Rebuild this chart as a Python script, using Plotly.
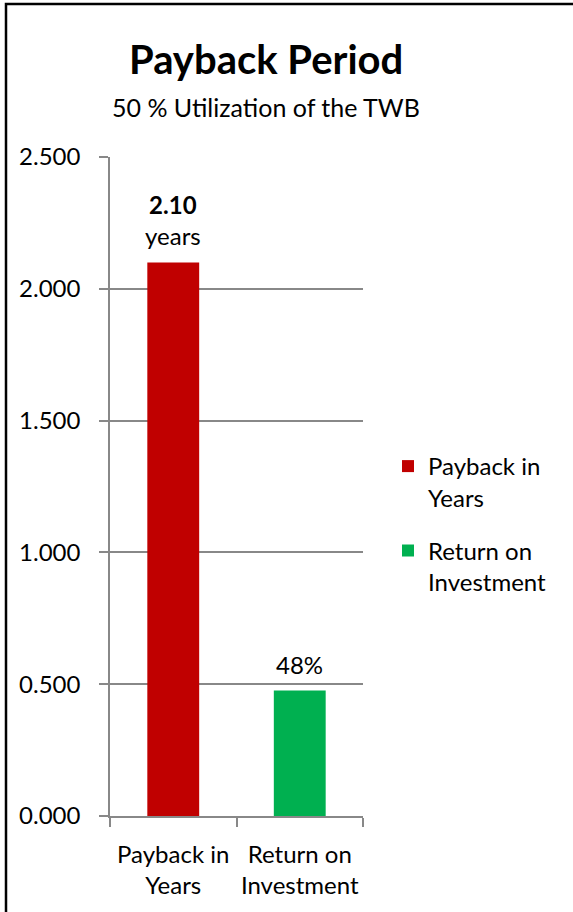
import plotly.graph_objects as go

# ---- data ----
categories = ["Payback in<br>Years", "Return on<br>Investment"]
series_names = ["Payback in<br>Years", "Return on<br>Investment"]
values = [2.10, 0.476]
colors = ["#C00000", "#00B050"]
value_labels = ["<b>2.10</b><br>years", "48%"]
y_ticks = [0.0, 0.5, 1.0, 1.5, 2.0, 2.5]

title_text = "<b>Payback Period</b>"
subtitle_text = "50 % Utilization of the TWB"

FONT = "Lato"
GRID = "#888888"

# plot-area geometry (page pixels)
L, R, T, B = 110, 363, 157, 816
PW, PH = R - L, B - T


def px(xp):
    return (xp - L) / PW


def py(yp):
    return (B - yp) / PH


fig = go.Figure()
for i, (cat, name, val, col) in enumerate(zip(categories, series_names, values, colors)):
    fig.add_trace(go.Bar(
        x=[cat], y=[val], name=name, marker=dict(color=col, line=dict(width=0)),
        width=0.41, legendgroup=f"g{i}", hoverinfo="skip",
    ))

annotations = []
for cat, val, lab in zip(categories, values, value_labels):
    annotations.append(dict(
        x=cat, y=val, xref="x", yref="y", text=lab, showarrow=False,
        yanchor="bottom", yshift=10, font=dict(family=FONT, size=24, color="#000000"),
    ))

annotations.append(dict(x=px(265.5), y=py(59), xref="paper", yref="paper",
                        text=title_text, showarrow=False, yanchor="middle",
                        font=dict(family=FONT, size=40, color="#000000")))
annotations.append(dict(x=px(265.5), y=py(107), xref="paper", yref="paper",
                        text=subtitle_text, showarrow=False, yanchor="middle",
                        font=dict(family=FONT, size=25, color="#000000")))

fig.update_layout(
    width=573, height=912,
    margin=dict(l=L, r=573 - R, t=T, b=912 - B, pad=0, autoexpand=False),
    paper_bgcolor="white", plot_bgcolor="white",
    barmode="overlay",
    showlegend=True,
    legend=dict(x=px(388), xanchor="left", y=py(444), yanchor="top",
                font=dict(family=FONT, size=24, color="#000000"),
                traceorder="grouped", tracegroupgap=19, valign="top",
                bgcolor="rgba(0,0,0,0)"),
    annotations=annotations,
    font=dict(family=FONT, color="#000000"),
    shapes=[dict(type="rect", xref="paper", yref="paper",
                 x0=px(6), x1=px(640), y0=py(980), y1=py(4),
                 line=dict(color="#000000", width=2.5), fillcolor="rgba(0,0,0,0)",
                 layer="above")],
)

fig.update_xaxes(
    type="category", showline=True, linecolor=GRID, linewidth=1.5,
    ticks="outside", ticklen=9, tickcolor=GRID, tickwidth=1.5, tickson="boundaries",
    showgrid=False, tickfont=dict(family=FONT, size=24, color="#000000"),
    tickangle=0, automargin=False, ticklabelstandoff=16,
)
fig.update_yaxes(
    range=[0, 2.5], tickvals=y_ticks, tickformat=".3f",
    showline=True, linecolor=GRID, linewidth=1.5,
    ticks="outside", ticklen=9, tickcolor=GRID, tickwidth=1.5,
    showgrid=True, gridcolor=GRID, gridwidth=1.5, zeroline=False,
    tickfont=dict(family=FONT, size=24, color="#000000"),
    automargin=False, ticklabelstandoff=14,
)

fig.write_html("out.html", config={"displayModeBar": False},
               post_script="document.body.style.margin='0px';")
